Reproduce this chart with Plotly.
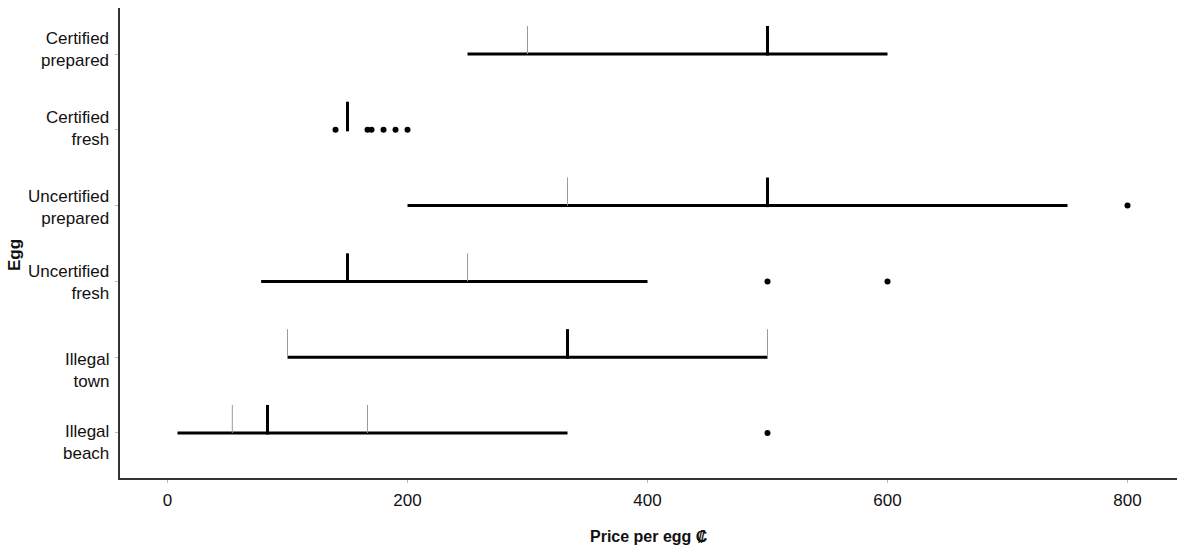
import plotly.graph_objects as go

# ---- data (top to bottom) ----
categories = ["Certified<br>prepared", "Certified<br>fresh", "Uncertified<br>prepared",
              "Uncertified<br>fresh", "Illegal<br>town", "Illegal<br>beach"]
whisker_low = [250, 150, 200, 78, 100, 8.33]
whisker_high = [600, 150, 750, 400, 500, 333.33]
quartile1 = [300, 150, 333.33, 150, 100, 54]
median = [500, 150, 500, 150, 333.33, 83.33]
quartile3 = [500, 150, 500, 250, 500, 166.67]
outliers = [[], [140, 166.67, 170, 180, 190, 200], [800], [500, 600], [], [500]]
x_ticks = [0, 200, 400, 600, 800]

# ---- styling ----
label_shift = [4.5, 1, -2, -1, -13, -9.5]  # pixel nudges of category labels
tick_h = 0.37
FONT = "Liberation Sans, Arial, sans-serif"

n = len(categories)
ypos = [n - 1 - i for i in range(n)]

fig = go.Figure()

# whisker lines
wx, wy = [], []
for i in range(n):
    wx += [whisker_low[i], whisker_high[i], None]
    wy += [ypos[i], ypos[i], None]
fig.add_trace(go.Scatter(x=wx, y=wy, mode="lines", line=dict(color="#000", width=3),
                         hoverinfo="skip", showlegend=False))

# quartile ticks (thin)
qx, qy = [], []
for i in range(n):
    for q in (quartile1[i], quartile3[i]):
        qx += [q, q, None]
        qy += [ypos[i], ypos[i] + tick_h, None]
fig.add_trace(go.Scatter(x=qx, y=qy, mode="lines", line=dict(color="#9a9a9a", width=1),
                         hoverinfo="skip", showlegend=False))

# median ticks (thick)
mx, my = [], []
for i in range(n):
    mx += [median[i], median[i], None]
    my += [ypos[i] - 0.02, ypos[i] + tick_h, None]
fig.add_trace(go.Scatter(x=mx, y=my, mode="lines", line=dict(color="#000", width=3),
                         hoverinfo="skip", showlegend=False))

# outliers
ox, oy = [], []
for i in range(n):
    for v in outliers[i]:
        ox.append(v)
        oy.append(ypos[i])
fig.add_trace(go.Scatter(x=ox, y=oy, mode="markers", marker=dict(color="#000", size=6),
                         hoverinfo="skip", showlegend=False))

annotations = []
for i in range(n):
    annotations.append(dict(text=categories[i], xref="paper", yref="y", x=0, y=ypos[i],
                            xanchor="right", yanchor="middle", xshift=-9, yshift=label_shift[i],
                            align="right", showarrow=False,
                            font=dict(family=FONT, size=17, color="#111")))
annotations.append(dict(text="<b>Price per egg ₡</b>", xref="paper", yref="paper",
                        x=0.5, y=-0.1255, xanchor="center", yanchor="middle", showarrow=False,
                        font=dict(family=FONT, size=16, color="#111")))
annotations.append(dict(text="<b>Egg</b>", xref="paper", yref="paper", textangle=-90,
                        x=-0.0993, y=0.4745, xanchor="center", yanchor="middle", showarrow=False,
                        font=dict(family=FONT, size=17, color="#111")))

fig.update_layout(
    width=1177, height=554,
    margin=dict(l=120, r=0, t=8, b=76),
    paper_bgcolor="white", plot_bgcolor="white",
    font=dict(family=FONT, size=17, color="#111"),
    annotations=annotations,
    xaxis=dict(range=[-39.6, 841.25], tickvals=x_ticks, showgrid=False, zeroline=False,
               showline=True, linecolor="#333", linewidth=2, ticks="outside", ticklen=3,
               tickcolor="#bbb", tickfont=dict(size=17), ticklabelstandoff=3),
    yaxis=dict(range=[-0.594, 5.607], tickvals=ypos, showticklabels=False, showgrid=False,
               zeroline=False, showline=True, linecolor="#333", linewidth=2,
               ticks="outside", ticklen=3, tickcolor="#bbb"),
)

fig.write_html("out.html", config={"displayModeBar": False},
               post_script="document.body.style.margin='0';")
